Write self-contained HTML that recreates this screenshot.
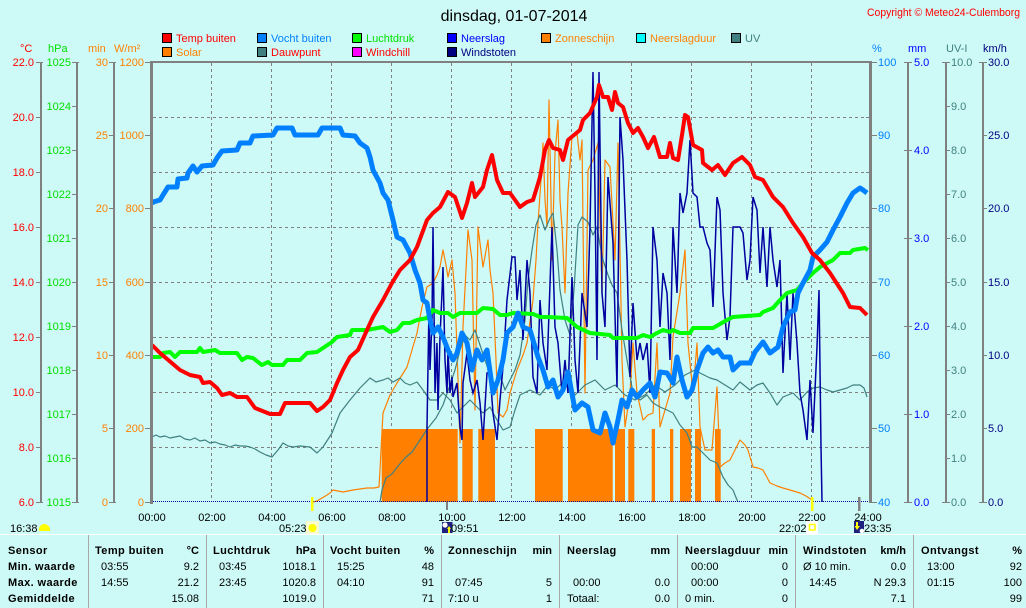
<!DOCTYPE html>
<html><head><meta charset="utf-8"><style>
html,body{margin:0;padding:0;background:#cdfaf7;}
svg{display:block;}
text{font-family:"Liberation Sans",Arial,sans-serif;}
</style></head><body>
<svg width="1026" height="608" xmlns="http://www.w3.org/2000/svg" font-size="11">
<rect x="0" y="0" width="1026" height="608" fill="#cdfaf7"/>

<!-- Title -->
<text x="514" y="21" font-size="16" text-anchor="middle" fill="#000">dinsdag, 01-07-2014</text>
<text x="867" y="16" font-size="11" fill="#ff0000" textLength="153" lengthAdjust="spacingAndGlyphs">Copyright © Meteo24-Culemborg</text>

<!-- Legend -->
<g stroke="#000" stroke-width="1">
<rect x="162.5" y="33.5" width="9" height="9" fill="#ff0000"/>
<rect x="257.5" y="33.5" width="9" height="9" fill="#0080ff"/>
<rect x="352.5" y="33.5" width="9" height="9" fill="#00ff00"/>
<rect x="447.5" y="33.5" width="9" height="9" fill="#0000ff"/>
<rect x="541.5" y="33.5" width="9" height="9" fill="#ff8000"/>
<rect x="636.5" y="33.5" width="9" height="9" fill="#00ffff"/>
<rect x="731.5" y="33.5" width="9" height="9" fill="#408080"/>
<rect x="162.5" y="47.5" width="9" height="9" fill="#ff8000"/>
<rect x="257.5" y="47.5" width="9" height="9" fill="#408080"/>
<rect x="352.5" y="47.5" width="9" height="9" fill="#ff00ff"/>
<rect x="447.5" y="47.5" width="9" height="9" fill="#000080"/>
</g>
<text x="176" y="42" fill="#ff0000">Temp buiten</text>
<text x="271" y="42" fill="#0080ff">Vocht buiten</text>
<text x="366" y="42" fill="#00e000">Luchtdruk</text>
<text x="461" y="42" fill="#0000ff">Neerslag</text>
<text x="555" y="42" fill="#ff8000">Zonneschijn</text>
<text x="650" y="42" fill="#ff8000">Neerslagduur</text>
<text x="745" y="42" fill="#408080">UV</text>
<text x="176" y="56" fill="#ff8000">Solar</text>
<text x="271" y="56" fill="#ff0000">Dauwpunt</text>
<text x="366" y="56" fill="#ff0000">Windchill</text>
<text x="461" y="56" fill="#000080">Windstoten</text>

<!-- Units -->
<text x="20" y="52" fill="#ff0000">°C</text>
<text x="48" y="52" fill="#00e000">hPa</text>
<text x="88" y="52" fill="#ff8000">min</text>
<text x="114" y="52" fill="#ff8000">W/m²</text>
<text x="872" y="52" fill="#0080ff">%</text>
<text x="908" y="52" fill="#0000ff">mm</text>
<text x="946" y="52" fill="#408080">UV-I</text>
<text x="983" y="52" fill="#000080">km/h</text>

<!-- Grid -->
<g stroke="#808080" stroke-width="1" stroke-dasharray="3 3">
<line x1="211.5" y1="63" x2="211.5" y2="502"/>
<line x1="271.5" y1="63" x2="271.5" y2="502"/>
<line x1="331.5" y1="63" x2="331.5" y2="502"/>
<line x1="391.5" y1="63" x2="391.5" y2="502"/>
<line x1="451.5" y1="63" x2="451.5" y2="502"/>
<line x1="511.5" y1="63" x2="511.5" y2="502"/>
<line x1="571.5" y1="63" x2="571.5" y2="502"/>
<line x1="631.5" y1="63" x2="631.5" y2="502"/>
<line x1="691.5" y1="63" x2="691.5" y2="502"/>
<line x1="751.5" y1="63" x2="751.5" y2="502"/>
<line x1="811.5" y1="63" x2="811.5" y2="502"/>
<line x1="153" y1="117.5" x2="868" y2="117.5"/>
<line x1="153" y1="172.5" x2="868" y2="172.5"/>
<line x1="153" y1="227.5" x2="868" y2="227.5"/>
<line x1="153" y1="282.5" x2="868" y2="282.5"/>
<line x1="153" y1="337.5" x2="868" y2="337.5"/>
<line x1="153" y1="392.5" x2="868" y2="392.5"/>
<line x1="153" y1="447.5" x2="868" y2="447.5"/>
</g>
<!-- inner minor ticks -->
<g stroke="#808080" stroke-width="1">
<line x1="152" y1="117.5" x2="155" y2="117.5"/><line x1="152" y1="172.5" x2="155" y2="172.5"/><line x1="152" y1="227.5" x2="155" y2="227.5"/><line x1="152" y1="337.5" x2="155" y2="337.5"/><line x1="152" y1="392.5" x2="155" y2="392.5"/><line x1="152" y1="447.5" x2="155" y2="447.5"/>
<line x1="866" y1="117.5" x2="869" y2="117.5"/><line x1="866" y1="172.5" x2="869" y2="172.5"/><line x1="866" y1="227.5" x2="869" y2="227.5"/><line x1="866" y1="337.5" x2="869" y2="337.5"/><line x1="866" y1="392.5" x2="869" y2="392.5"/><line x1="866" y1="447.5" x2="869" y2="447.5"/>
</g>

<!-- Zonneschijn bars -->
<g fill="#ff8000">
<rect x="381.7" y="429" width="76" height="73"/>
<rect x="462.3" y="429" width="10.4" height="73"/>
<rect x="478.3" y="429" width="16.7" height="73"/>
<rect x="535" y="429" width="27.7" height="73"/>
<rect x="568" y="429" width="44.7" height="73"/>
<rect x="615" y="429" width="10" height="73"/>
<rect x="628.3" y="429" width="6" height="73"/>
<rect x="651.7" y="429" width="3.3" height="73"/>
<rect x="670" y="429" width="3.3" height="73"/>
<rect x="680" y="429" width="11" height="73"/>
<rect x="695" y="429" width="6" height="73"/>
<rect x="715" y="429" width="5.7" height="73"/>
</g>

<!-- Solar -->
<polyline fill="none" stroke="#ff8000" stroke-width="1.2" stroke-linejoin="round" points="313,502 317,501 322,498 327,495 330,493 333,490 338,491 343,492 348,491 353,490 360,489 367,488 374,488 379,487 380,470 381,450 383,413 390,395 397,383 402,375 407,367 412,350 417,333 422,307 427,287 433,283 437,275 440,267 443,250 446,265 448,277 452,260 455,293 458,380 460,443 463,327 466,270 468,230 472,260 475,410 478,227 483,267 488,240 490,270 493,293 496,360 498,413 503,417 507,410 510,393 517,370 523,355 527,343 533,300 536,260 538,223 541,180 543,143 545,200 547,227 549,100 551,200 552,260 555,153 558,120 560,200 562,227 565,293 568,193 572,137 577,133 580,160 582,140 585,393 588,170 593,160 598,143 602,293 605,160 610,167 615,260 618,143 620,250 622,360 625,427 630,393 633,343 637,393 643,420 648,415 653,413 657,343 660,427 665,410 670,393 673,337 680,293 685,250 688,343 693,393 697,343 700,427 705,450 712,450 717,387 720,467 725,463 730,460 735,450 740,440 745,445 748,450 753,467 758,468 763,470 770,483 777,486 783,488 790,490 800,493 806,496 812,500"/>

<!-- Dauwpunt -->
<polyline fill="none" stroke="#408080" stroke-width="1.2" stroke-linejoin="round" points="152,437 156,435 160,437 165,436 170,438 175,437 180,436 185,439 190,440 195,438 200,441 205,440 210,443 215,442 220,444 225,445 230,447 235,445 240,446 245,446 250,447 255,449 260,452 266,455 272,457 278,450 283,443 288,446 293,447 300,446 310,447 317,453 323,447 332,433 340,413 350,400 360,388 370,378 376,382 383,380 388,378 393,382 400,378 405,383 410,385 417,382 423,390 430,400 437,400 443,393 450,400 457,413 463,407 470,400 477,407 483,413 490,407 497,420 503,430 510,427 515,410 520,395 530,390 540,395 548,385 555,390 565,380 575,395 585,385 595,380 605,390 615,385 625,395 635,400 645,395 655,385 665,392 675,385 685,375 695,370 700,373 710,378 717,380 725,385 733,390 740,382 750,390 757,385 763,383 770,393 777,405 783,397 793,393 800,400 807,392 813,388 820,387 827,390 833,392 840,390 847,388 853,385 860,385 864,388 867,397"/>

<!-- UV -->
<polyline fill="none" stroke="#408080" stroke-width="1.2" stroke-linejoin="round" points="380,502 382,490 386,478 392,474 398,466 405,458 412,452 420,440 428,428 436,418 443,405 450,385 455,370 460,350 465,335 470,340 475,330 480,345 485,360 490,375 495,385 500,375 505,390 510,380 515,370 520,355 525,320 528,280 532,250 536,225 540,215 545,230 550,218 553,213 557,250 560,290 565,320 570,335 574,290 578,225 582,217 588,222 593,235 597,227 600,245 603,260 608,275 612,285 617,293 622,330 627,360 633,393 640,400 647,395 653,403 660,407 667,410 673,413 680,425 687,433 692,447 697,447 703,453 710,460 717,463 723,477 728,485 733,490 737,500 738,502"/>

<!-- Windstoten -->
<polyline fill="none" stroke="#0000a0" stroke-width="1.5" stroke-linejoin="miter" points="427,502 427,427 429,307 430,370 432,320 433,227 435,393 437,343 438,410 440,337 442,293 443,267 445,360 447,393 448,350 450,393 452,377 453,397 457,383 460,427 462,440 463,383 467,353 470,380 473,393 477,380 480,403 483,440 487,373 490,373 493,413 497,440 500,400 503,367 507,300 512,257 515,257 517,300 520,270 523,340 527,260 530,293 533,377 537,393 540,300 543,343 547,370 552,227 555,327 558,343 562,393 565,360 568,393 572,277 575,360 578,393 582,293 587,327 590,227 593,72 595,193 597,360 599,72 602,293 605,327 608,177 613,243 617,387 620,117 623,160 627,260 630,377 633,303 637,360 640,343 643,360 647,343 650,393 653,227 657,260 660,327 663,273 667,293 670,360 673,227 677,293 680,193 683,213 687,193 690,140 693,193 697,197 700,227 703,227 707,243 710,250 713,307 717,197 720,210 723,293 727,340 730,317 733,227 740,227 743,233 747,280 750,260 753,197 757,210 760,273 763,227 767,287 770,227 773,260 777,287 780,260 783,373 787,293 790,360 793,293 797,343 800,393 803,410 807,440 810,380 813,433 817,347 819,290 821,447 822,502"/>

<!-- Luchtdruk -->
<polyline fill="none" stroke="#00ff00" stroke-width="4" stroke-linejoin="round" points="152,357 160,357 163,353 170,352 175,357 180,352 197,352 200,348 203,352 215,350 220,353 237,353 242,360 247,357 253,358 258,362 262,365 268,362 272,365 283,365 287,360 300,360 307,353 317,352 323,348 332,342 337,337 350,335 352,330 367,330 383,327 390,332 397,330 403,323 410,323 417,320 427,318 433,310 440,313 448,313 453,317 460,313 477,313 483,308 493,309 500,315 507,315 513,313 533,314 540,317 547,317 567,318 577,327 590,333 610,335 613,338 637,338 643,335 650,337 657,333 663,330 670,332 673,330 680,333 690,333 693,328 713,328 727,320 733,317 760,315 763,312 773,308 780,300 787,293 797,290 803,283 813,273 820,267 833,260 840,253 850,253 853,250 865,248 868,250"/>

<!-- Vocht -->
<polyline fill="none" stroke="#0080ff" stroke-width="5" stroke-linejoin="round" points="152,204 153,202 160,200 163,195 168,187 177,187 178,179 187,178 188,173 193,166 197,172 202,166 213,165 217,158 222,151 237,150 240,143 250,143 253,136 273,135 277,128 292,128 295,135 318,135 322,128 340,128 343,135 355,136 360,143 367,148 370,157 373,170 380,183 383,193 388,200 393,220 397,237 403,240 410,253 415,270 420,283 423,300 427,303 430,320 433,333 438,327 443,337 448,350 453,360 457,353 462,333 467,343 472,370 477,350 482,360 487,350 493,393 498,380 503,360 507,333 513,327 518,313 523,327 530,330 538,357 543,370 548,387 553,380 558,397 563,390 568,372 575,410 582,403 588,407 593,430 600,433 605,413 610,427 613,443 618,420 622,400 627,407 632,390 637,397 643,390 650,383 655,397 660,372 667,373 673,383 677,357 682,380 687,397 692,390 697,370 703,353 708,347 713,353 718,350 723,357 730,357 733,370 740,363 750,363 755,352 763,342 770,353 778,347 783,327 790,312 795,310 798,293 803,283 810,270 813,257 820,250 827,242 833,230 840,217 847,203 853,193 860,188 863,190 867,193"/>

<!-- Temp -->
<polyline fill="none" stroke="#ff0000" stroke-width="4" stroke-linejoin="round" points="152,345 160,353 180,370 190,375 200,377 203,383 210,382 217,388 222,395 230,393 237,397 247,397 255,408 270,414 280,414 285,403 310,403 317,411 323,407 330,400 337,383 343,370 350,357 358,350 367,330 373,317 383,300 392,283 400,270 410,260 417,247 427,220 433,213 440,207 448,192 455,197 462,218 467,203 472,183 475,197 483,187 487,170 492,155 497,180 503,193 510,193 520,207 527,202 533,200 537,187 540,177 545,150 549,140 553,148 560,150 563,160 568,140 580,130 583,120 590,113 597,97 599,85 603,97 608,97 612,110 615,92 618,103 623,107 628,123 633,133 638,128 643,137 648,148 654,137 660,157 667,157 670,143 673,158 678,160 682,135 685,115 688,117 693,145 702,150 703,163 712,170 718,165 725,175 733,163 742,157 750,165 755,177 763,180 773,197 783,207 793,223 803,237 812,253 820,260 830,273 843,293 850,307 860,308 867,315"/>

<!-- bottom dotted rain line -->
<line x1="153" y1="501.5" x2="868" y2="501.5" stroke="#0000a0" stroke-width="1" stroke-dasharray="1 1"/>

<!-- Plot border -->
<g fill="#808080">
<rect x="150" y="61" width="721" height="2"/>
<rect x="150" y="61" width="3" height="443"/>
<rect x="869" y="61" width="3" height="442"/>
</g>

<!-- markers -->
<rect x="311" y="497" width="2.5" height="14" fill="#ffff00"/>
<rect x="811" y="497" width="2.5" height="14" fill="#ffff00"/>
<rect x="446" y="502" width="2" height="8" fill="#808080"/>
<rect x="858" y="497" width="2.5" height="14" fill="#808080"/>

<!-- Left axes -->
<g stroke="#808080" stroke-width="2">
<line x1="41" y1="62" x2="41" y2="503"/>
<line x1="77" y1="62" x2="77" y2="503"/>
<line x1="114" y1="62" x2="114" y2="503"/>
<line x1="908" y1="62" x2="908" y2="503"/>
<line x1="946" y1="62" x2="946" y2="503"/>
<line x1="983" y1="62" x2="983" y2="503"/>
</g>
<g stroke="#808080" stroke-width="1">
<!-- temp ticks -->
<line x1="36" y1="62.5" x2="43" y2="62.5"/><line x1="36" y1="117.5" x2="41" y2="117.5"/><line x1="36" y1="172.5" x2="41" y2="172.5"/><line x1="36" y1="227.5" x2="41" y2="227.5"/><line x1="36" y1="282.5" x2="41" y2="282.5"/><line x1="36" y1="337.5" x2="41" y2="337.5"/><line x1="36" y1="392.5" x2="41" y2="392.5"/><line x1="36" y1="447.5" x2="41" y2="447.5"/><line x1="36" y1="502.5" x2="43" y2="502.5"/>
<!-- hPa ticks -->
<line x1="72" y1="62.5" x2="79" y2="62.5"/><line x1="72" y1="106.5" x2="77" y2="106.5"/><line x1="72" y1="150.5" x2="77" y2="150.5"/><line x1="72" y1="194.5" x2="77" y2="194.5"/><line x1="72" y1="238.5" x2="77" y2="238.5"/><line x1="72" y1="282.5" x2="77" y2="282.5"/><line x1="72" y1="326.5" x2="77" y2="326.5"/><line x1="72" y1="370.5" x2="77" y2="370.5"/><line x1="72" y1="414.5" x2="77" y2="414.5"/><line x1="72" y1="458.5" x2="77" y2="458.5"/><line x1="72" y1="502.5" x2="79" y2="502.5"/>
<!-- min ticks -->
<line x1="109" y1="62.5" x2="116" y2="62.5"/><line x1="109" y1="135.5" x2="114" y2="135.5"/><line x1="109" y1="208.5" x2="114" y2="208.5"/><line x1="109" y1="282.5" x2="114" y2="282.5"/><line x1="109" y1="355.5" x2="114" y2="355.5"/><line x1="109" y1="428.5" x2="114" y2="428.5"/><line x1="109" y1="502.5" x2="116" y2="502.5"/>
<!-- W/m2 ticks -->
<line x1="145" y1="62.5" x2="150" y2="62.5"/><line x1="145" y1="135.5" x2="150" y2="135.5"/><line x1="145" y1="208.5" x2="150" y2="208.5"/><line x1="145" y1="282.5" x2="150" y2="282.5"/><line x1="145" y1="355.5" x2="150" y2="355.5"/><line x1="145" y1="428.5" x2="150" y2="428.5"/><line x1="145" y1="502.5" x2="150" y2="502.5"/>
<!-- % ticks -->
<line x1="872" y1="62.5" x2="877" y2="62.5"/><line x1="872" y1="135.5" x2="877" y2="135.5"/><line x1="872" y1="208.5" x2="877" y2="208.5"/><line x1="872" y1="282.5" x2="877" y2="282.5"/><line x1="872" y1="355.5" x2="877" y2="355.5"/><line x1="872" y1="428.5" x2="877" y2="428.5"/><line x1="872" y1="502.5" x2="877" y2="502.5"/>
<!-- mm ticks -->
<line x1="904" y1="62.5" x2="912" y2="62.5"/><line x1="904" y1="150.5" x2="912" y2="150.5"/><line x1="904" y1="238.5" x2="912" y2="238.5"/><line x1="904" y1="326.5" x2="912" y2="326.5"/><line x1="904" y1="414.5" x2="912" y2="414.5"/><line x1="904" y1="502.5" x2="912" y2="502.5"/>
<!-- UV ticks -->
<line x1="942" y1="62.5" x2="950" y2="62.5"/><line x1="946" y1="106.5" x2="950" y2="106.5"/><line x1="946" y1="150.5" x2="950" y2="150.5"/><line x1="946" y1="194.5" x2="950" y2="194.5"/><line x1="946" y1="238.5" x2="950" y2="238.5"/><line x1="946" y1="282.5" x2="950" y2="282.5"/><line x1="946" y1="326.5" x2="950" y2="326.5"/><line x1="946" y1="370.5" x2="950" y2="370.5"/><line x1="946" y1="414.5" x2="950" y2="414.5"/><line x1="946" y1="458.5" x2="950" y2="458.5"/><line x1="942" y1="502.5" x2="950" y2="502.5"/>
<!-- km/h ticks -->
<line x1="979" y1="62.5" x2="987" y2="62.5"/><line x1="983" y1="135.5" x2="987" y2="135.5"/><line x1="983" y1="208.5" x2="987" y2="208.5"/><line x1="983" y1="282.5" x2="987" y2="282.5"/><line x1="983" y1="355.5" x2="987" y2="355.5"/><line x1="983" y1="428.5" x2="987" y2="428.5"/><line x1="979" y1="502.5" x2="987" y2="502.5"/>
</g>

<!-- Left labels -->
<g fill="#ff0000" text-anchor="end">
<text x="34" y="66">22.0</text><text x="34" y="121">20.0</text><text x="34" y="176">18.0</text><text x="34" y="231">16.0</text><text x="34" y="286">14.0</text><text x="34" y="341">12.0</text><text x="34" y="396">10.0</text><text x="34" y="451">8.0</text><text x="34" y="506">6.0</text>
</g>
<g fill="#00e000" text-anchor="end">
<text x="71" y="66">1025</text><text x="71" y="110">1024</text><text x="71" y="154">1023</text><text x="71" y="198">1022</text><text x="71" y="242">1021</text><text x="71" y="286">1020</text><text x="71" y="330">1019</text><text x="71" y="374">1018</text><text x="71" y="418">1017</text><text x="71" y="462">1016</text><text x="71" y="506">1015</text>
</g>
<g fill="#ff8000" text-anchor="end">
<text x="108" y="66">30</text><text x="108" y="139">25</text><text x="108" y="212">20</text><text x="108" y="286">15</text><text x="108" y="359">10</text><text x="108" y="432">5</text><text x="108" y="506">0</text>
<text x="144" y="66">1200</text><text x="144" y="139">1000</text><text x="144" y="212">800</text><text x="144" y="286">600</text><text x="144" y="359">400</text><text x="144" y="432">200</text><text x="144" y="506">0</text>
</g>
<!-- Right labels -->
<g fill="#0080ff">
<text x="878" y="66">100</text><text x="878" y="139">90</text><text x="878" y="212">80</text><text x="878" y="286">70</text><text x="878" y="359">60</text><text x="878" y="432">50</text><text x="878" y="506">40</text>
</g>
<g fill="#0000ff">
<text x="914" y="66">5.0</text><text x="914" y="154">4.0</text><text x="914" y="242">3.0</text><text x="914" y="330">2.0</text><text x="914" y="418">1.0</text><text x="914" y="506">0.0</text>
</g>
<g fill="#408080">
<text x="951" y="66">10.0</text><text x="951" y="110">9.0</text><text x="951" y="154">8.0</text><text x="951" y="198">7.0</text><text x="951" y="242">6.0</text><text x="951" y="286">5.0</text><text x="951" y="330">4.0</text><text x="951" y="374">3.0</text><text x="951" y="418">2.0</text><text x="951" y="462">1.0</text><text x="951" y="506">0.0</text>
</g>
<g fill="#000080">
<text x="988" y="66">30.0</text><text x="988" y="139">25.0</text><text x="988" y="212">20.0</text><text x="988" y="286">15.0</text><text x="988" y="359">10.0</text><text x="988" y="432">5.0</text><text x="988" y="506">0.0</text>
</g>

<!-- Time labels -->
<g fill="#000" text-anchor="middle">
<text x="152" y="521">00:00</text><text x="212" y="521">02:00</text><text x="272" y="521">04:00</text><text x="332" y="521">06:00</text><text x="392" y="521">08:00</text><text x="452" y="521">10:00</text><text x="512" y="521">12:00</text><text x="572" y="521">14:00</text><text x="632" y="521">16:00</text><text x="692" y="521">18:00</text><text x="752" y="521">20:00</text><text x="812" y="521">22:00</text><text x="868" y="521">24:00</text>
</g>

<!-- Sun / moon info -->
<text x="10" y="532" fill="#000">16:38</text>
<path d="M39,531 L39,528 Q41,524 44,524 Q48,524 50,528 L50,531 Z" fill="#ffff00"/>
<text x="279" y="532" fill="#000">05:23</text>
<rect x="306" y="521" width="13" height="14" fill="#fbfbd0"/>
<circle cx="312.5" cy="528" r="4" fill="#ffff00"/>
<rect x="442" y="522" width="10.5" height="11" fill="#202080"/>
<circle cx="445" cy="525" r="2.6" fill="#ffffff"/>
<path d="M449,526 L451,529 L450,529 L450,533 L448,533 L448,529 L447,529 Z" fill="#ffff00"/>
<text x="451" y="532" fill="#000">09:51</text>
<text x="779" y="532" fill="#000">22:02</text>
<rect x="806" y="521" width="12" height="13" fill="#ffffff"/>
<rect x="809.5" y="524.5" width="5.5" height="5.5" fill="none" stroke="#ffff00" stroke-width="1.5"/>
<rect x="854" y="521" width="10" height="12" fill="#202080"/>
<path d="M856,522 L858,522 L858,526 L860,526 L857,530 L854.5,526 L856,526 Z" fill="#ffff00"/>
<circle cx="862" cy="531" r="2.3" fill="#ffffff"/>
<text x="864" y="532" fill="#000">23:35</text>

<!-- Table -->
<line x1="0" y1="534.5" x2="1026" y2="534.5" stroke="#ffffff" stroke-width="1"/>
<g stroke="#a8a8a8" stroke-width="1">
<line x1="88.5" y1="535" x2="88.5" y2="608"/>
<line x1="206.5" y1="535" x2="206.5" y2="608"/>
<line x1="323.5" y1="535" x2="323.5" y2="608"/>
<line x1="441.5" y1="535" x2="441.5" y2="608"/>
<line x1="559.5" y1="535" x2="559.5" y2="608"/>
<line x1="677.5" y1="535" x2="677.5" y2="608"/>
<line x1="795.5" y1="535" x2="795.5" y2="608"/>
<line x1="913.5" y1="535" x2="913.5" y2="608"/>
</g>
<g fill="#000" font-weight="bold" letter-spacing="0.4">
<text x="8" y="554">Sensor</text>
<text x="8" y="570">Min. waarde</text>
<text x="8" y="586">Max. waarde</text>
<text x="8" y="602">Gemiddelde</text>
<text x="95" y="554">Temp buiten</text>
<text x="199" y="554" text-anchor="end" letter-spacing="0">°C</text>
<text x="213" y="554">Luchtdruk</text>
<text x="316" y="554" text-anchor="end" letter-spacing="0">hPa</text>
<text x="330" y="554">Vocht buiten</text>
<text x="434" y="554" text-anchor="end" letter-spacing="0">%</text>
<text x="448" y="554">Zonneschijn</text>
<text x="552" y="554" text-anchor="end" letter-spacing="0">min</text>
<text x="567" y="554">Neerslag</text>
<text x="670" y="554" text-anchor="end" letter-spacing="0">mm</text>
<text x="685" y="554">Neerslagduur</text>
<text x="788" y="554" text-anchor="end" letter-spacing="0">min</text>
<text x="803" y="554">Windstoten</text>
<text x="906" y="554" text-anchor="end" letter-spacing="0">km/h</text>
<text x="921" y="554">Ontvangst</text>
<text x="1022" y="554" text-anchor="end" letter-spacing="0">%</text>
</g>
<g fill="#000">
<text x="101" y="570">03:55</text><text x="199" y="570" text-anchor="end">9.2</text>
<text x="101" y="586">14:55</text><text x="199" y="586" text-anchor="end">21.2</text>
<text x="199" y="602" text-anchor="end">15.08</text>
<text x="219" y="570">03:45</text><text x="316" y="570" text-anchor="end">1018.1</text>
<text x="219" y="586">23:45</text><text x="316" y="586" text-anchor="end">1020.8</text>
<text x="316" y="602" text-anchor="end">1019.0</text>
<text x="337" y="570">15:25</text><text x="434" y="570" text-anchor="end">48</text>
<text x="337" y="586">04:10</text><text x="434" y="586" text-anchor="end">91</text>
<text x="434" y="602" text-anchor="end">71</text>
<text x="455" y="586">07:45</text><text x="552" y="586" text-anchor="end">5</text>
<text x="448" y="602">7:10 u</text><text x="552" y="602" text-anchor="end">1</text>
<text x="573" y="586">00:00</text><text x="670" y="586" text-anchor="end">0.0</text>
<text x="567" y="602">Totaal:</text><text x="670" y="602" text-anchor="end">0.0</text>
<text x="691" y="570">00:00</text><text x="788" y="570" text-anchor="end">0</text>
<text x="691" y="586">00:00</text><text x="788" y="586" text-anchor="end">0</text>
<text x="685" y="602">0 min.</text><text x="788" y="602" text-anchor="end">0</text>
<text x="803" y="570">Ø 10 min.</text><text x="906" y="570" text-anchor="end">0.0</text>
<text x="809" y="586">14:45</text><text x="906" y="586" text-anchor="end">N 29.3</text>
<text x="906" y="602" text-anchor="end">7.1</text>
<text x="927" y="570">13:00</text><text x="1022" y="570" text-anchor="end">92</text>
<text x="927" y="586">01:15</text><text x="1022" y="586" text-anchor="end">100</text>
<text x="1022" y="602" text-anchor="end">99</text>
</g>
</svg>
</body></html>
